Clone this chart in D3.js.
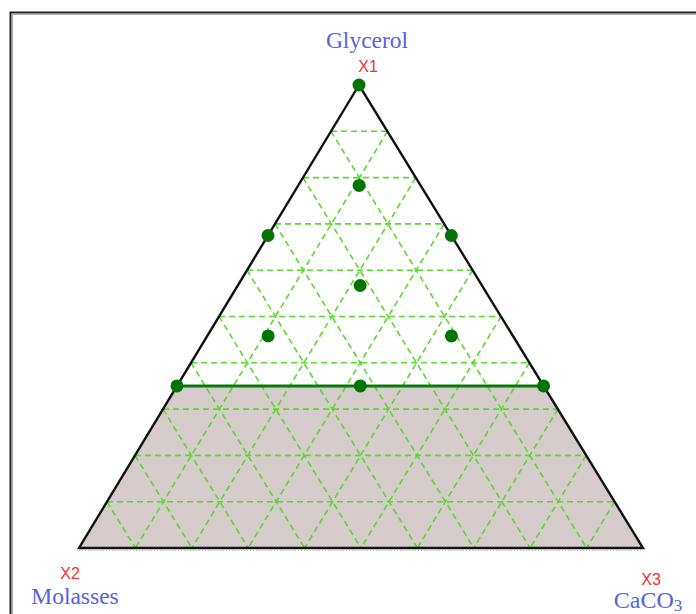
<!DOCTYPE html>
<html>
<head>
<meta charset="utf-8">
<script src="https://cdn.jsdelivr.net/npm/d3@7"></script>
<style>
	body { margin: 0; background: #fff; }
	svg { display: block; }
</style>
</head>
<body>
<svg id="chart" width="696" height="614"></svg>
<script>

// components: [label, code]
var components = [ ["Glycerol", "X1"], ["Molasses", "X2"], ["CaCO3", "X3"] ];
var gridLevels = [0.1, 0.2, 0.3, 0.4, 0.5, 0.6, 0.7, 0.8, 0.9];
var x1Lower = 0.35;		// lower bound of Glycerol
// design points as [X1, X2, X3]
var designX1 = [1.000, 0.783, 0.675, 0.675, 0.567, 0.458, 0.458, 0.350, 0.350, 0.350];
var designX2 = [0.000, 0.108, 0.325, 0.000, 0.217, 0.433, 0.108, 0.650, 0.325, 0.000];
var designX3 = [0.000, 0.108, 0.000, 0.325, 0.217, 0.108, 0.433, 0.000, 0.325, 0.650];

var svg = d3.select("#chart");
var [ apexX, apexY, baseY, baseL, baseR ] = [ 359, 85, 548, 79, 643 ];
var skew = (apexX - baseL) / (baseR - baseL);		// apex is not quite centred

var y = d3.scaleLinear([0, 1], [baseY, apexY]);		// by X1
var x = d3.scaleLinear([0, 1], [baseL, baseR]);		// along the base

function pt(a, b, c)	{
	return [ x(c + a * skew), y(a) ];
}

// frame (only left and top edges are inside the picture)
svg.append("path")
	.attr("d", "M10.5,614 L10.5,12.5 L696,12.5")
	.attr("fill", "none")
	.attr("stroke", "#222")
	.attr("stroke-width", 2);
svg.append("path")
	.attr("d", "M12.5,614 L12.5,14.5 L696,14.5")
	.attr("fill", "none")
	.attr("stroke", "#aaa")
	.attr("stroke-width", 1);

// infeasible region
var shade = [ pt(x1Lower, 1 - x1Lower, 0), pt(0, 1, 0), pt(0, 0, 1), pt(x1Lower, 0, 1 - x1Lower) ];
svg.append("path")
	.attr("d", d3.line()(shade) + "Z")
	.attr("fill", "#d5cbcb");

// grid
var segs = [];
gridLevels.forEach(t => {
	segs.push([ pt(t, 1 - t, 0), pt(t, 0, 1 - t) ]);
	segs.push([ pt(1 - t, t, 0), pt(0, t, 1 - t) ]);
	segs.push([ pt(1 - t, 0, t), pt(0, 1 - t, t) ]);
});

svg.append("g")
	.selectAll("path")
	.data(segs)
	.join("path")
	.attr("d", d => d3.line()(d))
	.attr("fill", "none")
	.attr("stroke", "#5ada2c")
	.attr("stroke-width", 1.6)
	.attr("stroke-dasharray", "6,4");

// constraint line
svg.append("path")
	.attr("d", d3.line()([ pt(x1Lower, 1 - x1Lower, 0), pt(x1Lower, 0, 1 - x1Lower) ]))
	.attr("stroke", "#0a7a0a")
	.attr("stroke-width", 3);

// small ticks under the base
svg.append("line")
	.attr("x1", x(0)).attr("x2", x(1))
	.attr("y1", baseY + 2.5).attr("y2", baseY + 2.5)
	.attr("stroke", "#bbb")
	.attr("stroke-dasharray", "1,2");

// triangle
svg.append("path")
	.attr("d", d3.line()([ pt(1, 0, 0), pt(0, 1, 0), pt(0, 0, 1) ]) + "Z")
	.attr("fill", "none")
	.attr("stroke", "#111")
	.attr("stroke-width", 2.4)
	.attr("stroke-linejoin", "miter");

// design points
svg.append("g")
	.selectAll("circle")
	.data(designX1.map((a, i) => [ a, designX2[i], designX3[i] ]))
	.join("circle")
	.attr("cx", d => pt(...d)[0])
	.attr("cy", d => pt(...d)[1])
	.attr("r", 6.5)
	.attr("fill", "#037403");

// labels
var labelPos = [
	{ name: [367, 48], code: [368, 72] },
	{ name: [75, 604], code: [70, 579] },
	{ name: [648, 608], code: [651, 585] }
];

components.forEach((c, i) => {
	var p = labelPos[i];
	var t = svg.append("text")
		.attr("x", p.name[0]).attr("y", p.name[1])
		.attr("text-anchor", "middle")
		.attr("font-family", "'Liberation Serif', 'Times New Roman', serif")
		.attr("font-size", 23.5)
		.attr("fill", "#5364dc");
	if(c[0] === "CaCO3")	{
		t.append("tspan").attr("font-size", 24).text("CaCO");
		t.append("tspan").attr("dy", 3).attr("font-size", 17).text("3");
	} else
		t.text(c[0]);

	svg.append("text")
		.attr("x", p.code[0]).attr("y", p.code[1])
		.attr("text-anchor", "middle")
		.attr("font-family", "'Liberation Sans', Arial, sans-serif")
		.attr("font-size", 16)
		.attr("fill", "#f03030")
		.text(c[1]);
});

</script>
</body>
</html>
